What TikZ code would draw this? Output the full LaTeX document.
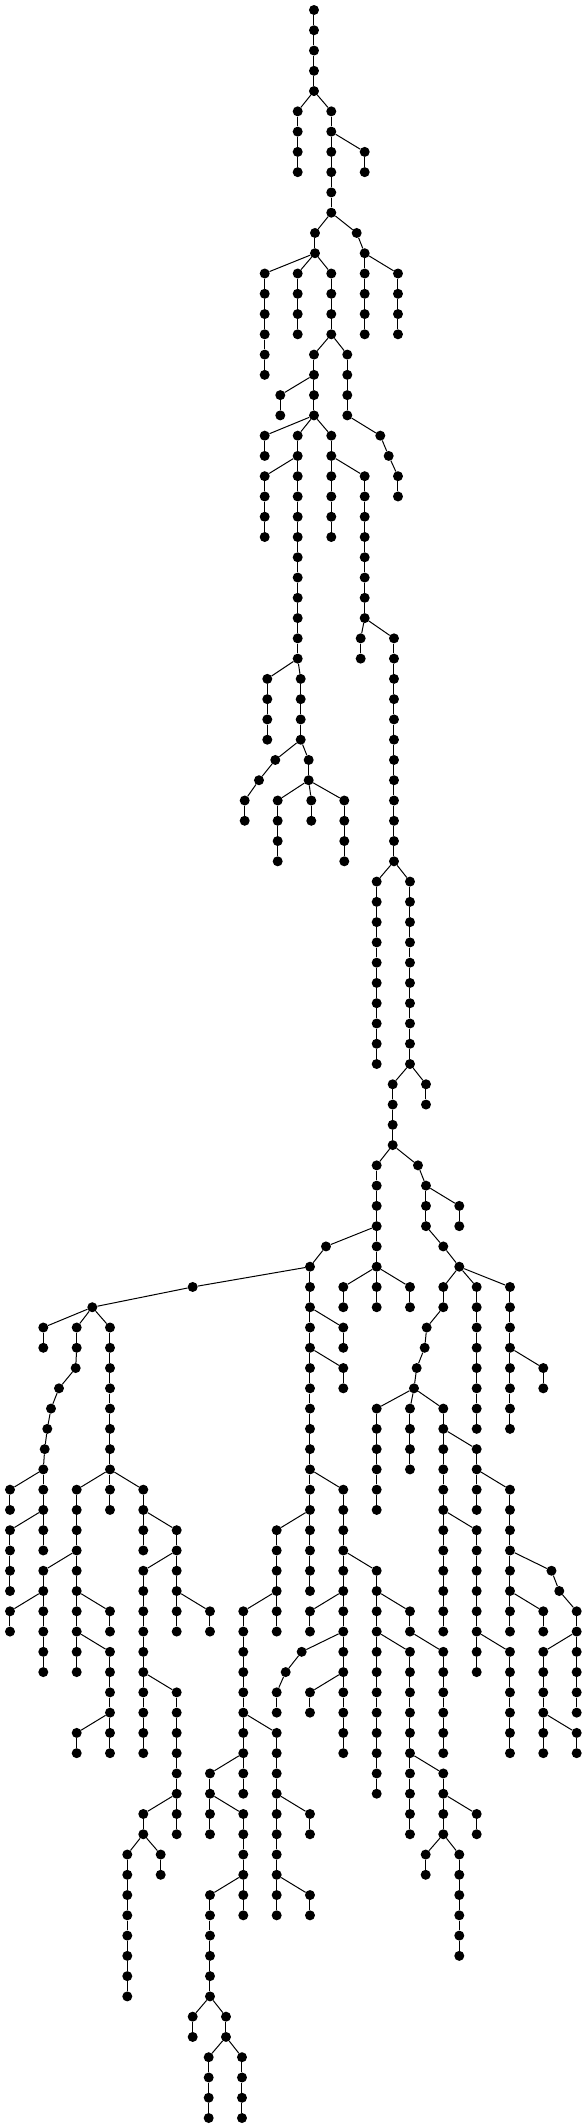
\documentclass[tikz,border=0pt]{standalone}
\begin{document}
\begin{tikzpicture}[x=1pt,y=-20.27pt,
  dot/.style={circle,fill=black,draw=none,inner sep=0pt,minimum size=10pt},
  edge/.style={draw=black,line width=1pt}]
\useasboundingbox[fill=white] (0,-0.4933) rectangle (587,104.4933);
\node[dot] (n1) at (314,0) {};
\foreach \i/\x/\L/\p in {
2/314/1/1,3/314/2/2,4/314/3/3,5/314/4/4,
6/297.7/5/5,7/297.7/6/6,8/297.7/7/7,9/297.7/8/8,
10/331.3/5/5,11/331.3/6/10,
12/364.7/7/11,13/364.7/8/12,
14/331.3/7/11,15/331.3/8/14,16/331.3/9/15,17/331.3/10/16,
18/315/11/17,19/315/12/18,
20/356.7/11/17,21/364.7/12/20,
22/264.7/13/19,23/264.7/14/22,24/264.7/15/23,25/264.7/16/24,26/264.7/17/25,27/264.7/18/26,
28/297.7/13/19,29/297.7/14/28,30/297.7/15/29,31/297.7/16/30,
32/331.3/13/19,33/331.3/14/32,34/331.3/15/33,35/331.3/16/34,
36/364.7/13/21,37/364.7/14/36,38/364.7/15/37,39/364.7/16/38,
40/398/13/21,41/398/14/40,42/398/15/41,43/398/16/42,
44/314/17/35,45/347.3/17/35,
46/314/18/44,
47/280.3/19/46,48/280.3/20/47,
49/314/19/46,50/314/20/49,
51/347.3/18/45,52/347.3/19/51,53/347.3/20/52,
54/380.3/21/53,55/388.7/22/54,56/398/23/55,57/398/24/56,
58/264.7/21/50,59/264.7/22/58,
60/297.7/21/50,61/297.7/22/60,
62/264.7/23/61,63/264.7/24/62,64/264.7/25/63,65/264.7/26/64,
66/297.7/23/61,67/297.7/24/66,68/297.7/25/67,69/297.7/26/68,70/297.7/27/69,71/297.7/28/70,72/297.7/29/71,73/297.7/30/72,74/297.7/31/73,75/297.7/32/74,
76/331.3/21/50,77/331.3/22/76,
78/331.3/23/77,79/331.3/24/78,80/331.3/25/79,81/331.3/26/80,
82/364.7/23/77,83/364.7/24/82,84/364.7/25/83,85/364.7/26/84,86/364.7/27/85,87/364.7/28/86,88/364.7/29/87,89/364.7/30/88,
90/360.7/31/89,91/360.7/32/90,
92/394/31/89,93/394/32/92,94/394/33/93,95/394/34/94,96/394/35/95,97/394/36/96,98/394/37/97,99/394/38/98,100/394/39/99,101/394/40/100,102/394/41/101,103/394/42/102,
104/267.3/33/75,105/267.3/34/104,106/267.3/35/105,107/267.3/36/106,
108/300.7/33/75,109/300.7/34/108,110/300.7/35/109,111/300.7/36/110,
112/275.3/37/111,113/259/38/112,114/244.7/39/113,115/244.7/40/114,
116/308.7/37/111,117/308.7/38/116,
118/277.7/39/117,119/277.7/40/118,120/277.7/41/119,121/277.7/42/120,
122/311.3/39/117,123/311.3/40/122,
124/344.3/39/117,125/344.3/40/124,126/344.3/41/125,127/344.3/42/126,
128/376.7/43/103,129/376.7/44/128,130/376.7/45/129,131/376.7/46/130,132/376.7/47/131,133/376.7/48/132,134/376.7/49/133,135/376.7/50/134,136/376.7/51/135,137/376.7/52/136,
138/410/43/103,139/410/44/138,140/410/45/139,141/410/46/140,142/410/47/141,143/410/48/142,144/410/49/143,145/410/50/144,146/410/51/145,147/410/52/146,
148/392.7/53/147,149/392.7/54/148,150/392.7/55/149,151/392.7/56/150,
152/426/53/147,153/426/54/152,
154/376.7/57/151,155/376.7/58/154,156/376.7/59/155,157/376.7/60/156,
158/418/57/151,159/426/58/158,
160/426/59/159,161/426/60/160,162/443.3/61/161,163/459.3/62/162,
164/459.3/59/159,165/459.3/60/164,
166/326/61/157,167/310/62/166,
168/376.7/61/157,169/376.7/62/168,
170/343.3/63/169,171/343.3/64/170,172/376.7/63/169,173/376.7/64/172,174/410/63/169,175/410/64/174,
176/443.3/63/163,177/443.3/64/176,178/426.7/65/177,179/424.7/66/178,180/416.7/67/179,181/414/68/180,
182/376.7/69/181,183/376.7/70/182,184/376.7/71/183,185/376.7/72/184,186/376.7/73/185,187/376.7/74/186,
188/410/69/181,189/410/70/188,190/410/71/189,191/410/72/190,
192/443.3/69/181,193/443.3/70/192,
194/443.3/71/193,195/443.3/72/194,196/443.3/73/195,197/443.3/74/196,
198/476.7/71/193,199/476.7/72/198,
200/476.7/73/199,201/476.7/74/200,
202/510/73/199,203/510/74/202,204/510/75/203,205/510/76/204,
206/510/77/205,207/510/78/206,
208/510/79/207,209/510/80/208,
210/543.3/79/207,211/543.3/80/210,
212/551.5/77/205,213/559.3/78/212,214/576.7/79/213,215/576.7/80/214,
216/543.3/81/215,217/543.3/82/216,218/543.3/83/217,219/543.3/84/218,
220/543.3/85/219,221/543.3/86/220,
222/576.7/85/219,223/576.7/86/222,
224/576.7/81/215,225/576.7/82/224,226/576.7/83/225,227/576.7/84/226,
228/443.3/75/197,229/443.3/76/228,230/443.3/77/229,231/443.3/78/230,232/443.3/79/231,233/443.3/80/232,
234/476.7/75/197,235/476.7/76/234,236/476.7/77/235,237/476.7/78/236,238/476.7/79/237,239/476.7/80/238,
240/476.7/81/239,241/476.7/82/240,
242/510/81/239,243/510/82/242,244/510/83/243,245/510/84/244,246/510/85/245,247/510/86/246,
248/476.7/63/163,249/476.7/64/248,250/476.7/65/249,251/476.7/66/250,252/476.7/67/251,253/476.7/68/252,254/476.7/69/253,255/476.7/70/254,
256/510/63/163,257/510/64/256,258/510/65/257,259/510/66/258,
260/510/67/259,261/510/68/260,262/510/69/261,263/510/70/262,
264/543.3/67/259,265/543.3/68/264,
266/192.7/63/167,267/92.3/64/266,
268/43.3/65/267,269/43.3/66/268,
270/76.7/65/267,271/76.7/66/270,272/75.7/67/271,273/59/68/272,274/51/69/273,275/47.3/70/274,276/44.7/71/275,277/43.3/72/276,
278/10/73/277,279/10/74/278,
280/43.3/73/277,281/43.3/74/280,
282/10/75/281,283/10/76/282,284/10/77/283,285/10/78/284,
286/43.3/75/281,287/43.3/76/286,
288/110/65/267,289/110/66/288,290/110/67/289,291/110/68/290,292/110/69/291,293/110/70/292,294/110/71/293,295/110/72/294,
296/76.7/73/295,297/76.7/74/296,298/76.7/75/297,299/76.7/76/298,
300/43.3/77/299,301/43.3/78/300,
302/10/79/301,303/10/80/302,
304/43.3/79/301,305/43.3/80/304,306/43.3/81/305,307/43.3/82/306,
308/76.7/77/299,309/76.7/78/308,
310/76.7/79/309,311/76.7/80/310,
312/76.7/81/311,313/76.7/82/312,
314/110/81/311,315/110/82/314,316/110/83/315,317/110/84/316,
318/76.7/85/317,319/76.7/86/318,
320/110/85/317,321/110/86/320,
322/110/79/309,323/110/80/322,
324/110/73/295,325/110/74/324,
326/143.3/73/295,327/143.3/74/326,
328/143.3/75/327,329/143.3/76/328,
330/176.7/75/327,331/176.7/76/330,
332/143.3/77/331,333/143.3/78/332,334/143.3/79/333,335/143.3/80/334,336/143.3/81/335,337/143.3/82/336,
338/143.3/83/337,339/143.3/84/338,340/143.3/85/339,341/143.3/86/340,
342/176.7/83/337,343/176.7/84/342,344/176.7/85/343,345/176.7/86/344,346/176.7/87/345,347/176.7/88/346,
348/143.3/89/347,349/143.3/90/348,
350/127.3/91/349,351/127.3/92/350,352/127.3/93/351,353/127.3/94/352,354/127.3/95/353,355/127.3/96/354,356/127.3/97/355,357/127.3/98/356,
358/160.7/91/349,359/160.7/92/358,
360/176.7/89/347,361/176.7/90/360,
362/176.7/77/331,363/176.7/78/362,
364/176.7/79/363,365/176.7/80/364,
366/210/79/363,367/210/80/366,
368/310/63/167,369/310/64/368,
370/343.3/65/369,371/343.3/66/370,
372/310/65/369,373/310/66/372,
374/343.3/67/373,375/343.3/68/374,
376/310/67/373,377/310/68/376,378/310/69/377,379/310/70/378,380/310/71/379,381/310/72/380,
382/343.3/73/381,383/343.3/74/382,384/343.3/75/383,385/343.3/76/384,
386/310/73/381,387/310/74/386,
388/276.7/75/387,389/276.7/76/388,390/276.7/77/389,391/276.7/78/390,
392/243.3/79/391,393/243.3/80/392,394/243.3/81/393,395/243.3/82/394,396/243.3/83/395,397/243.3/84/396,
398/243.3/85/397,399/243.3/86/398,
400/210/87/399,401/210/88/400,
402/210/89/401,403/210/90/402,
404/243.3/89/401,405/243.3/90/404,406/243.3/91/405,407/243.3/92/406,
408/210/93/407,409/210/94/408,410/210/95/409,411/210/96/410,412/210/97/411,413/210/98/412,
414/192.7/99/413,415/192.7/100/414,
416/226/99/413,417/226/100/416,
418/208.7/101/417,419/208.7/102/418,420/208.7/103/419,421/208.7/104/420,
422/242/101/417,423/242/102/422,424/242/103/423,425/242/104/424,
426/243.3/93/407,427/243.3/94/426,
428/243.3/87/399,429/243.3/88/428,
430/276.7/85/397,431/276.7/86/430,432/276.7/87/431,433/276.7/88/432,
434/276.7/89/433,435/276.7/90/434,436/276.7/91/435,437/276.7/92/436,
438/276.7/93/437,439/276.7/94/438,
440/310/93/437,441/310/94/440,
442/310/89/433,443/310/90/442,
444/276.7/79/391,445/276.7/80/444,
446/310/75/387,447/310/76/446,448/310/77/447,449/310/78/448,
450/343.3/77/385,451/343.3/78/450,
452/310/79/451,453/310/80/452,
454/343.3/79/451,455/343.3/80/454,
456/301.7/81/455,457/285.7/82/456,458/276.7/83/457,459/276.7/84/458,
460/343.3/81/455,461/343.3/82/460,
462/310/83/461,463/310/84/462,
464/343.3/83/461,465/343.3/84/464,466/343.3/85/465,467/343.3/86/466,
468/376.7/77/385,469/376.7/78/468,
470/376.7/79/469,471/376.7/80/470,
472/376.7/81/471,473/376.7/82/472,474/376.7/83/473,475/376.7/84/474,476/376.7/85/475,477/376.7/86/476,478/376.7/87/477,479/376.7/88/478,
480/410/81/471,481/410/82/480,482/410/83/481,483/410/84/482,484/410/85/483,485/410/86/484,
486/410/87/485,487/410/88/486,488/410/89/487,489/410/90/488,
490/443.3/87/485,491/443.3/88/490,
492/443.3/89/491,493/443.3/90/492,
494/425.7/91/493,495/425.7/92/494,
496/459.3/91/493,497/459.3/92/496,498/459.3/93/497,499/459.3/94/498,500/459.3/95/499,501/459.3/96/500,
502/476.7/89/491,503/476.7/90/502,
504/410/79/469,505/410/80/504,
506/443.3/81/505,507/443.3/82/506,508/443.3/83/507,509/443.3/84/508,510/443.3/85/509,511/443.3/86/510}
{
  \node[dot] (n\i) at (\x,\L) {};
  \draw[edge] (n\p) -- (n\i);
}
\end{tikzpicture}
\end{document}
